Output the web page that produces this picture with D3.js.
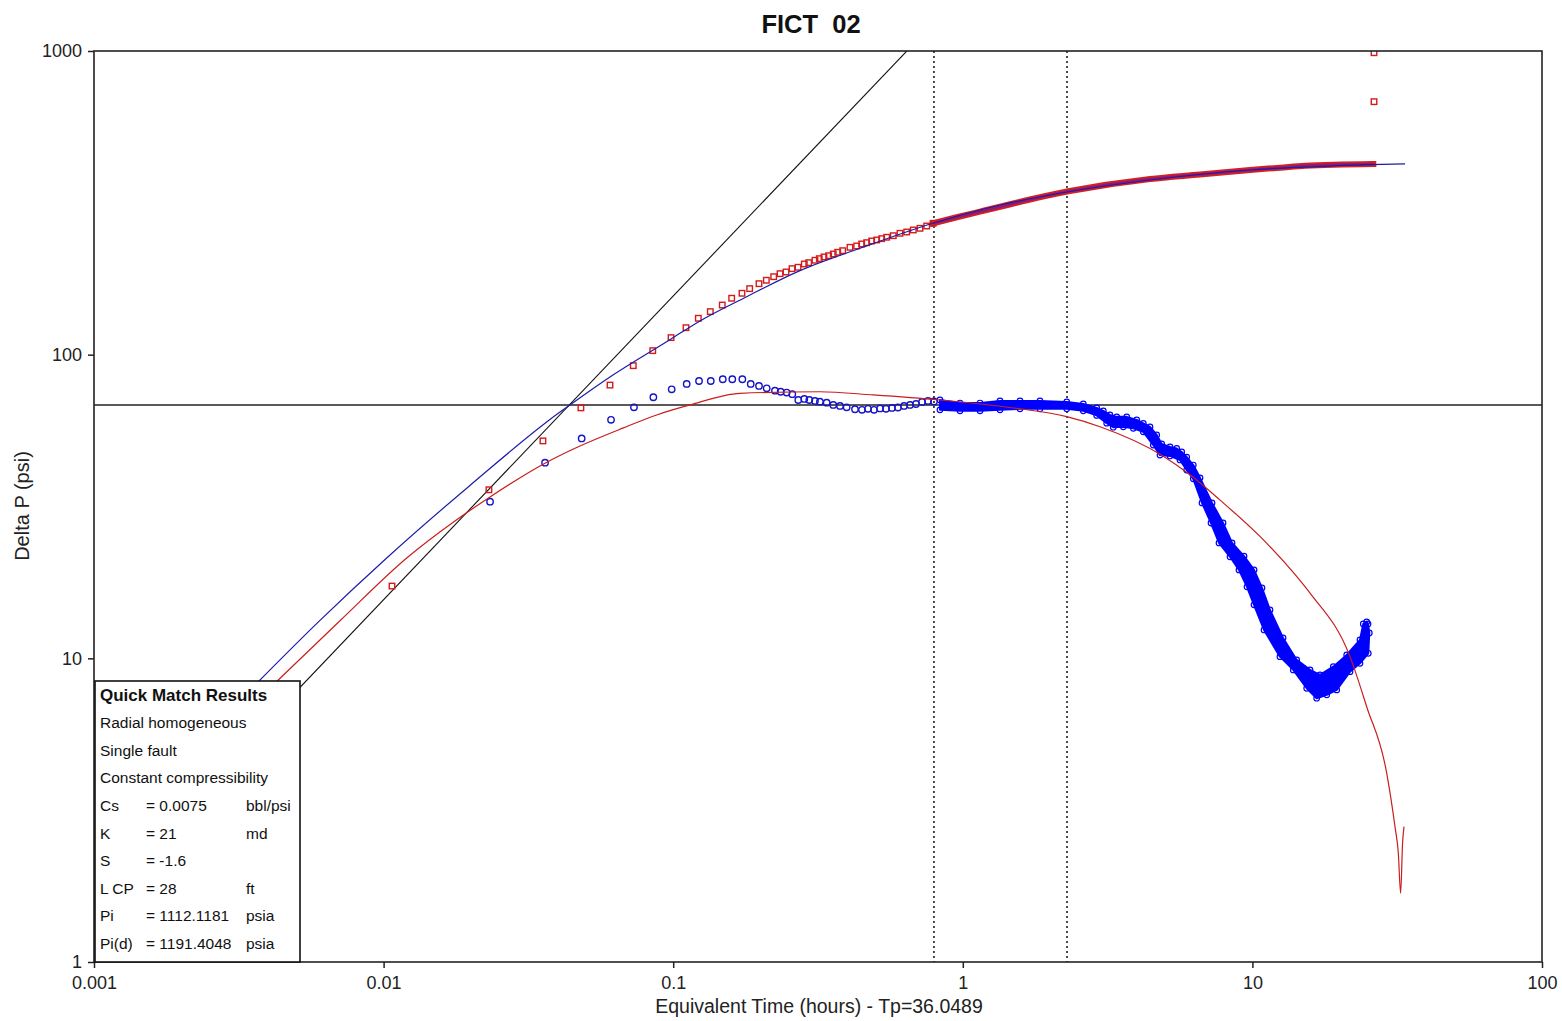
<!DOCTYPE html>
<html>
<head>
<meta charset="utf-8">
<script src="https://cdn.jsdelivr.net/npm/d3@7"></script>
<style>
  html, body { margin: 0; padding: 0; background: #fff; }
  svg { display: block; font-family: "Liberation Sans", Arial, sans-serif; }
</style>
</head>
<body>
<svg id="chart" width="1562" height="1021"></svg>
<script>
// ---- Axes ----
const xTicks = [0.001, 0.01, 0.1, 1, 10, 100];
const xTickLabels = ["0.001", "0.01", "0.1", "1", "10", "100"];
const yTicks = [1, 10, 100, 1000];
const yTickLabels = ["1", "10", "100", "1000"];

// ---- Model: pressure change (blue line) ----
const modelPressTime = [0.00360, 0.00603, 0.01025, 0.01987, 0.0401, 0.0440, 0.0589, 0.0983, 0.1221, 0.1794, 0.274, 0.4416, 0.789, 1.344, 2.29, 4.43, 9.81, 18.5, 33.65];
const modelPressDp   = [8.17, 13.33, 21.4, 37.1, 64.1, 68.3, 83.0, 112.6, 128.2, 155.2, 189.1, 224.0, 270.8, 311, 343.3, 376, 405.7, 418, 424.6];

// ---- Model: pressure derivative (red line) ----
const modelDerivTime = [0.004118, 0.00707, 0.01202, 0.01788, 0.02331, 0.03608, 0.0452, 0.0673, 0.0877, 0.1143, 0.1701, 0.321, 0.4897, 0.834, 1.455, 2.285, 2.977, 4.91, 6.09, 7.73, 10.62, 14.22, 15.81, 21.73, 24.81, 29.09, 31.07, 31.9, 32.5, 33.0, 33.38];
const modelDerivDp   = [8.11, 13.3, 21.4, 28.6, 34.0, 43.9, 48.9, 57.4, 63.3, 68.3, 74.6, 75.5, 73.7, 70.9, 67.0, 62.5, 57.9, 46.4, 40.2, 33.2, 25.2, 18.6, 16.4, 10.13, 6.93, 4.19, 2.79, 2.29, 1.685, 2.46, 2.79];

// ---- Measured pressure change (red squares) ----
const pressTime = [0.01069, 0.0231, 0.0355, 0.048, 0.0605, 0.0728, 0.0850, 0.0983, 0.1107, 0.1221, 0.1343, 0.1477, 0.1592, 0.1728, 0.1837, 0.1978, 0.2097, 0.2223, 0.2338, 0.2452, 0.2572, 0.2698, 0.2836, 0.2937, 0.3087, 0.3195, 0.3316, 0.3442, 0.357, 0.3698, 0.3848, 0.4077, 0.4300, 0.4475, 0.4656, 0.4846, 0.5043, 0.5247, 0.5460, 0.5754, 0.6068, 0.6401, 0.6747, 0.7115, 0.7506, 0.790, 26.3, 26.3];
const pressDp   = [17.3, 35.9, 52.0, 66.8, 79.4, 92.0, 103.1, 113.8, 122.7, 131.8, 138.6, 145.7, 153.4, 159.3, 165.0, 171.3, 175.8, 180.6, 184.8, 187.2, 192.0, 194.0, 198.9, 200.9, 204.6, 207.1, 209.8, 211.8, 214.6, 217.4, 220.0, 225.7, 228.0, 231.5, 233.8, 236.8, 238.6, 241.0, 243.6, 246.5, 251.0, 253.5, 257.4, 260.7, 265.3, 270.8, 681, 987];
// late-time pressure record, sampled so densely that it reads as a band
const pressTailTime = [0.790, 0.953, 1.147, 2.29, 4.43, 6.59, 9.81, 12.45, 15.19, 26.15];
const pressTailDp   = [270.8, 283.5, 295.8, 344.6, 378.9, 392.0, 405.7, 412.8, 419.1, 424.6];

// ---- Measured pressure derivative (blue circles) ----
const derivTime = [0.02331, 0.0361, 0.0483, 0.0610, 0.0732, 0.0854, 0.0988, 0.1113, 0.1228, 0.1348, 0.1483, 0.1600, 0.1733, 0.1852, 0.1978, 0.2103, 0.2246, 0.235, 0.2465, 0.2578, 0.2704, 0.2836, 0.2951, 0.3087, 0.3211, 0.3388, 0.357, 0.3767, 0.3972, 0.4243, 0.4486, 0.4706, 0.4937, 0.5178, 0.5430, 0.5694, 0.5972, 0.6266, 0.6573, 0.6893, 0.7230, 0.7583, 0.7952];
const derivDp   = [32.8, 44.1, 53.0, 61.0, 67.1, 72.4, 76.9, 80.1, 81.9, 81.9, 83.0, 83.0, 83.0, 80.1, 78.9, 77.5, 76.1, 75.5, 75.0, 74.1, 70.9, 71.5, 70.9, 70.4, 70.0, 69.5, 68.3, 67.8, 67.1, 66.1, 65.8, 66.3, 65.8, 66.5, 66.3, 66.8, 67.0, 67.8, 68.3, 68.8, 69.9, 70.4, 70.1];
// late-time derivative scatter: upper and lower envelope of the dense cloud
const derivUpperTime = [0.834, 0.978, 1.147, 1.344, 1.576, 1.847, 2.285, 2.607, 2.900, 3.056, 3.222, 3.400, 3.681, 3.986, 4.201, 4.430, 4.672, 4.862, 5.194, 5.478, 5.700, 5.931, 6.250, 6.594, 7.254, 7.918, 8.505, 9.355, 10.13, 10.79, 11.50, 12.76, 14.22, 15.81, 17.12, 19.03, 21.17, 23.52, 24.15, 24.81];
const derivUpperDp   = [70.9, 69.3, 69.3, 70.4, 70.4, 70.4, 69.9, 68.8, 66.8, 65.3, 63.3, 62.4, 62.4, 61.0, 59.4, 57.8, 54.4, 50.8, 49.7, 49.1, 47.8, 46.0, 43.3, 39.3, 32.5, 27.9, 24.0, 21.7, 19.55, 17.06, 14.43, 11.67, 9.88, 9.16, 8.82, 9.39, 10.26, 11.50, 12.98, 13.18];
const derivLowerTime = [0.834, 0.978, 1.147, 1.344, 1.576, 1.847, 2.285, 2.607, 2.900, 3.140, 3.308, 3.583, 3.880, 4.201, 4.548, 4.796, 5.194, 5.623, 5.931, 6.250, 6.699, 7.197, 7.669, 8.371, 8.989, 9.581, 10.13, 10.97, 12.45, 13.84, 15.40, 16.67, 18.06, 19.55, 21.73, 23.52, 25.13, 25.33, 25.07];
const derivLowerDp   = [65.8, 65.3, 65.3, 65.8, 66.3, 66.3, 66.3, 65.3, 63.1, 59.5, 57.7, 57.9, 57.2, 55.7, 50.4, 46.7, 46.4, 45.0, 41.7, 39.0, 32.5, 27.9, 24.0, 21.6, 19.55, 17.2, 15.0, 12.40, 10.13, 9.16, 7.97, 7.39, 7.58, 7.87, 9.04, 9.63, 10.39, 12.12, 12.98];

// ---- Straight-line guides ----
const unitSlopeTime = [0.001, 0.7];
const unitSlopeDp   = [1.56, 1092];
const radialLevel = 68.3;
const periodBounds = [0.795, 2.29];

// ---- Match results panel ----
const panelTitle = "Quick Match Results";
const panelModel = ["Radial homogeneous", "Single fault", "Constant compressibility"];
const panelNames  = ["Cs", "K", "S", "L CP", "Pi", "Pi(d)"];
const panelValues = ["= 0.0075", "= 21", "= -1.6", "= 28", "= 1112.1181", "= 1191.4048"];
const panelUnits  = ["bbl/psi", "md", "", "ft", "psia", "psia"];

// =========================================================
const W = 1562, H = 1021;
const plot = { left: 94, top: 51, right: 1542, bottom: 962 };

const x = d3.scaleLog().domain([0.001, 100]).range([plot.left, plot.right]);
const y = d3.scaleLog().domain([1, 1000]).range([plot.bottom, plot.top]);

const zip = (ts, vs) => ts.map((t, i) => [t, vs[i]]);

const svg = d3.select("#chart");
svg.append("rect").attr("width", W).attr("height", H).attr("fill", "#fff");

svg.append("defs").append("clipPath").attr("id", "plotClip")
  .append("rect")
  .attr("x", plot.left).attr("y", plot.top)
  .attr("width", plot.right - plot.left).attr("height", plot.bottom - plot.top);

const g = svg.append("g").attr("clip-path", "url(#plotClip)");

const smooth = d3.line().x(d => x(d[0])).y(d => y(d[1])).curve(d3.curveMonotoneX);
const straight = d3.line().x(d => x(d[0])).y(d => y(d[1]));

// unit-slope wellbore storage line
g.append("path").attr("d", straight(zip(unitSlopeTime, unitSlopeDp)))
  .attr("fill", "none").attr("stroke", "#111").attr("stroke-width", 1.1);

// radial flow level
g.append("line")
  .attr("x1", plot.left).attr("x2", plot.right)
  .attr("y1", y(radialLevel)).attr("y2", y(radialLevel))
  .attr("stroke", "#222").attr("stroke-width", 1.6);

// period boundaries
g.selectAll("line.bound").data(periodBounds).join("line")
  .attr("class", "bound")
  .attr("x1", d => x(d)).attr("x2", d => x(d))
  .attr("y1", plot.top).attr("y2", plot.bottom)
  .attr("stroke", "#111").attr("stroke-width", 1.5)
  .attr("stroke-dasharray", "2,3");

// late-time derivative cloud
const cloud = zip(derivUpperTime, derivUpperDp).concat(zip(derivLowerTime, derivLowerDp).reverse());
g.append("path")
  .attr("d", d3.line().x(d => x(d[0])).y(d => y(d[1])).curve(d3.curveLinearClosed)(cloud))
  .attr("fill", "#0000ff").attr("stroke", "#0000ff").attr("stroke-width", 2).attr("stroke-linejoin", "round");
g.selectAll("circle.edge")
  .data(zip(derivUpperTime, derivUpperDp).concat(zip(derivLowerTime, derivLowerDp)))
  .join("circle").attr("class", "edge")
  .attr("cx", d => x(d[0])).attr("cy", d => y(d[1])).attr("r", 2.8)
  .attr("fill", "none").attr("stroke", "#0000ff").attr("stroke-width", 1.2);

// derivative points
g.selectAll("circle.deriv").data(zip(derivTime, derivDp)).join("circle")
  .attr("class", "deriv")
  .attr("cx", d => x(d[0])).attr("cy", d => y(d[1])).attr("r", 3.2)
  .attr("fill", "none").attr("stroke", "#1414c8").attr("stroke-width", 1.4);

// dense late-time pressure record
g.append("path").attr("d", smooth(zip(pressTailTime, pressTailDp)))
  .attr("fill", "none").attr("stroke", "#d42020").attr("stroke-width", 6).attr("stroke-linecap", "square");
g.append("path").attr("d", smooth(zip(pressTailTime, pressTailDp)))
  .attr("fill", "none").attr("stroke", "#8c1a78").attr("stroke-width", 2.5);

// pressure points
const sq = 5.5;
g.selectAll("rect.press").data(zip(pressTime, pressDp)).join("rect")
  .attr("class", "press")
  .attr("x", d => x(d[0]) - sq / 2).attr("y", d => y(d[1]) - sq / 2)
  .attr("width", sq).attr("height", sq)
  .attr("fill", "none").attr("stroke", "#d41a1a").attr("stroke-width", 1.4);

// model curves
g.append("path").attr("d", smooth(zip(modelPressTime, modelPressDp)))
  .attr("fill", "none").attr("stroke", "#1c1ca8").attr("stroke-width", 1.2);
g.append("path").attr("d", smooth(zip(modelDerivTime, modelDerivDp)))
  .attr("fill", "none").attr("stroke", "#c81e1e").attr("stroke-width", 1.2);

// ---- frame and axes ----
svg.append("rect")
  .attr("x", plot.left).attr("y", plot.top)
  .attr("width", plot.right - plot.left).attr("height", plot.bottom - plot.top)
  .attr("fill", "none").attr("stroke", "#222").attr("stroke-width", 1.6);

const xAxis = d3.axisBottom(x).tickValues(xTicks)
  .tickFormat((d, i) => xTickLabels[i]).tickSize(6).tickPadding(8);
const yAxis = d3.axisLeft(y).tickValues(yTicks)
  .tickFormat((d, i) => yTickLabels[i]).tickSize(6).tickPadding(6);

const gx = svg.append("g").attr("transform", `translate(0,${plot.bottom})`).call(xAxis);
const gy = svg.append("g").attr("transform", `translate(${plot.left},0)`).call(yAxis);
[gx, gy].forEach(a => {
  a.select(".domain").remove();
  a.selectAll(".tick line").attr("stroke", "#222").attr("stroke-width", 1.5);
  a.selectAll(".tick text").attr("fill", "#222")
    .style("font-family", '"Liberation Sans", Arial, sans-serif').style("font-size", "18px");
});

// axis titles
svg.append("text")
  .attr("x", 819).attr("y", 1013)
  .attr("text-anchor", "middle").attr("fill", "#222")
  .style("font-size", "19.5px")
  .text("Equivalent Time (hours) - Tp=36.0489");
svg.append("text")
  .attr("transform", "translate(29,506) rotate(-90)")
  .attr("text-anchor", "middle").attr("fill", "#222")
  .style("font-size", "20px")
  .text("Delta P (psi)");

// title
svg.append("text")
  .attr("x", 811).attr("y", 33)
  .attr("text-anchor", "middle").attr("fill", "#111")
  .style("font-size", "25.5px").style("font-weight", "bold").style("white-space", "pre")
  .text("FICT  02");

// ---- match results panel ----
const panel = svg.append("g");
panel.append("rect")
  .attr("x", 95).attr("y", 681).attr("width", 205).attr("height", 281)
  .attr("fill", "#fff").attr("stroke", "#111").attr("stroke-width", 1.6);

const rowY = i => 700.5 + i * 27.6;
panel.append("text").attr("x", 100).attr("y", rowY(0))
  .style("font-size", "17px").style("font-weight", "bold").attr("fill", "#111")
  .text(panelTitle);
panelModel.forEach((s, i) => {
  panel.append("text").attr("x", 100).attr("y", rowY(i + 1))
    .style("font-size", "15.5px").attr("fill", "#111").text(s);
});
panelNames.forEach((s, i) => {
  const yy = rowY(i + 4);
  panel.append("text").attr("x", 100).attr("y", yy).style("font-size", "15.5px").attr("fill", "#111").text(s);
  panel.append("text").attr("x", 146).attr("y", yy).style("font-size", "15.5px").attr("fill", "#111").text(panelValues[i]);
  panel.append("text").attr("x", 246).attr("y", yy).style("font-size", "15.5px").attr("fill", "#111").text(panelUnits[i]);
});
</script>
</body>
</html>
